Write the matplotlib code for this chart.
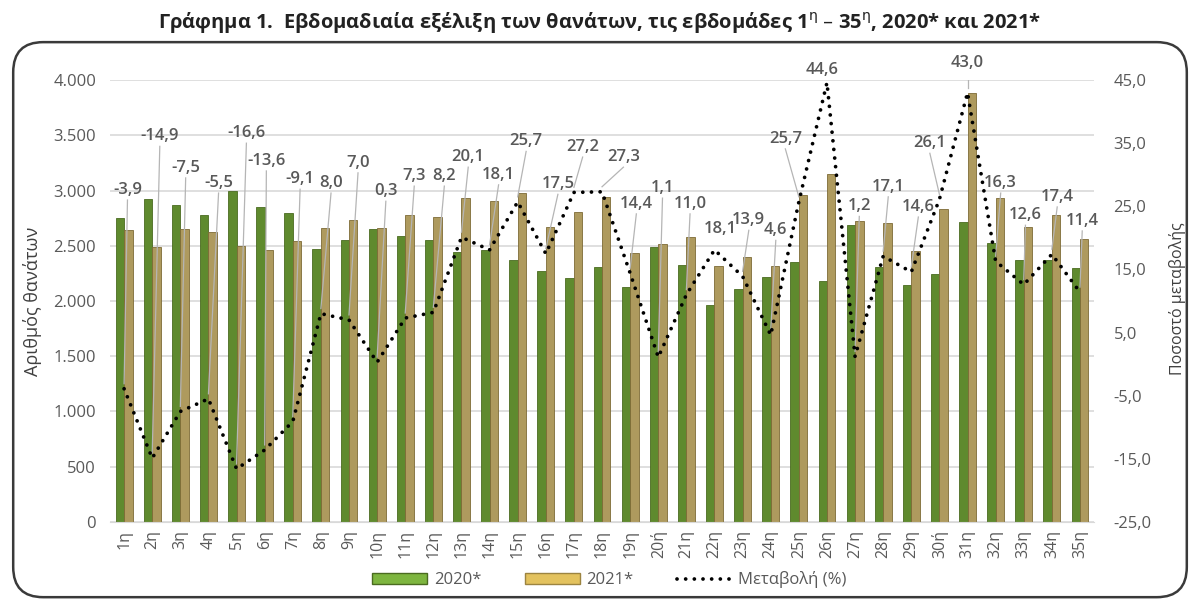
import matplotlib.pyplot as plt
import numpy as np
from matplotlib.patches import FancyBboxPatch, Patch
from matplotlib.lines import Line2D

plt.rcParams['font.family'] = ['Open Sans', 'DejaVu Sans']

weeks = ['1η', '2η', '3η', '4η', '5η', '6η', '7η', '8η', '9η', '10η', '11η', '12η',
         '13η', '14η', '15η', '16η', '17η', '18η', '19η', '20ή', '21η', '22η', '23η',
         '24η', '25η', '26η', '27η', '28η', '29η', '30ή', '31η', '32η', '33η', '34η', '35η']

deaths_2020 = [2751, 2923, 2869, 2778, 2995, 2851, 2796, 2470, 2552, 2650, 2588, 2552,
               2446, 2461, 2371, 2275, 2208, 2311, 2130, 2492, 2326, 1964, 2108, 2220,
               2356, 2181, 2688, 2311, 2145, 2244, 2718, 2525, 2371, 2371, 2301]
deaths_2021 = [2640, 2487, 2652, 2624, 2495, 2462, 2540, 2665, 2730, 2658, 2776, 2760,
               2935, 2905, 2975, 2670, 2808, 2942, 2436, 2518, 2581, 2319, 2400, 2321,
               2960, 3154, 2720, 2705, 2457, 2830, 3886, 2935, 2670, 2783, 2563]
change_pct = [-3.9, -14.9, -7.5, -5.5, -16.6, -13.6, -9.1, 8.0, 7.0, 0.3, 7.3, 8.2,
              20.1, 18.1, 25.7, 17.5, 27.2, 27.3, 14.4, 1.1, 11.0, 18.1, 13.9, 4.6,
              25.7, 44.6, 1.2, 17.1, 14.6, 26.1, 43.0, 16.3, 12.6, 17.4, 11.4]

# where the data labels sit (label offsets, in category / percent units)
label_dx = [0.12, 0.27, 0.19, 0.36, 0.35, 0.06, 0.26, 0.36, 0.32, 0.31, 0.32, 0.39,
            0.24, 0.32, 0.30, 0.43, 0.31, 0.76, 0.22, 0.15, 0.13, 0.21, 0.22, 0.18,
            -0.48, -0.16, 0.15, 0.18, 0.25, -0.34, 0.0, 0.18, 0.06, 0.19, 0.08]
label_y = [27.6, 36.1, 31.1, 28.7, 36.6, 32.2, 29.3, 28.7, 31.9, 27.4, 29.8, 29.8,
           32.8, 30.0, 35.3, 28.5, 34.4, 32.8, 25.4, 27.9, 25.4, 21.4, 22.8, 21.2,
           35.7, 46.6, 25.0, 28.1, 24.9, 35.0, 47.7, 28.7, 23.6, 26.5, 22.7]

green = '#5F8A2E'
gold = '#AE9A5E'
grey = '#595959'
dots = (0, (0.01, 2.3))

fig = plt.figure(figsize=(12, 6.02), dpi=100)
ax = fig.add_axes([0.0917, 0.133, 0.82, 0.734])
ax2 = ax.twinx()

x = np.arange(len(weeks))
w = 0.3
ax.bar(x - w / 2, deaths_2020, w, color=green, edgecolor='#4a6b20', linewidth=0.6, zorder=2)
ax.bar(x + w / 2, deaths_2021, w, color=gold, edgecolor='#7d6a36', linewidth=0.6, zorder=2)

ax.set_ylim(0, 4000)
ax.set_yticks(np.arange(0, 4001, 500))
ax.set_yticklabels([f'{v:,}'.replace(',', '.') for v in range(0, 4001, 500)])
ax.set_xlim(-0.5, len(weeks) - 0.5)
ax.set_xticks(x)
ax.set_xticklabels(weeks, rotation=90)
ax.grid(axis='y', color='#d9d9d9', linewidth=1.2, zorder=0)
ax.set_axisbelow(True)
for s in ['top', 'right', 'left']:
    ax.spines[s].set_visible(False)
ax.spines['bottom'].set_color('#d9d9d9')
ax.tick_params(axis='both', length=0, labelsize=12, colors=grey, pad=10)
ax.tick_params(axis='x', labelsize=11.5, pad=6)
ax.set_ylabel('Αριθμός θανάτων', fontsize=13, color='#404040', labelpad=8)

ax2.plot(x, change_pct, color='black', linewidth=2.7, linestyle=dots,
         dash_capstyle='round', zorder=3)
ax2.set_ylim(-25, 45)
ax2.set_yticks(np.arange(-25, 46, 10))
ax2.set_yticklabels([f'{v:.1f}'.replace('.', ',') for v in np.arange(-25, 46, 10)])
for s in ax2.spines.values():
    s.set_visible(False)
ax2.tick_params(axis='y', length=0, labelsize=12, colors=grey, pad=14)
ax2.set_ylabel('Ποσοστό μεταβολής', fontsize=11.5, color='#404040', rotation=90,
               labelpad=4)
ax2.yaxis.set_label_coords(1.0765, 0.505)

for i, p in enumerate(change_pct):
    lx = x[i] + label_dx[i]
    ly = label_y[i]
    if ly - p > 4:
        ax2.plot([lx, x[i]], [ly - 1.6, p + 0.8], color='#b5b5b5', linewidth=0.9, zorder=2.5)
    ax2.text(lx, ly, f'{p:.1f}'.replace('.', ','), ha='center', va='center',
             fontsize=12, fontweight='semibold', color=grey, zorder=4)

handles = [Patch(facecolor='#7DB53F', edgecolor='#4a6b20'),
           Patch(facecolor='#E3C25E', edgecolor='#9c8440'),
           Line2D([0], [0], color='black', linewidth=2.7, linestyle=dots,
                  dash_capstyle='round')]
fig.legend(handles, ['2020*', '2021*', 'Μεταβολή (%)'], loc='center',
           bbox_to_anchor=(0.508, 0.037), ncol=3, frameon=False, fontsize=12,
           handlelength=3.3, handleheight=0.6, columnspacing=2.6, handletextpad=0.4,
           labelcolor=grey)

fig.text(0.5, 0.962, 'Γράφημα 1.  Εβδομαδιαία εξέλιξη των θανάτων, τις εβδομάδες '
         r'1$^{\mathrm{η}}$ – 35$^{\mathrm{η}}$, 2020* και 2021*',
         ha='center', va='center', fontsize=14.5, fontweight='bold', color='#222222')

frame = FancyBboxPatch((0.011, 0.008), 0.978, 0.922, transform=fig.transFigure,
                       boxstyle='round,pad=0,rounding_size=0.025', facecolor='none',
                       edgecolor='#3a3a3a', linewidth=1.8, mutation_aspect=2.0)
fig.patches.append(frame)

fig.savefig('out.png', dpi=100)
